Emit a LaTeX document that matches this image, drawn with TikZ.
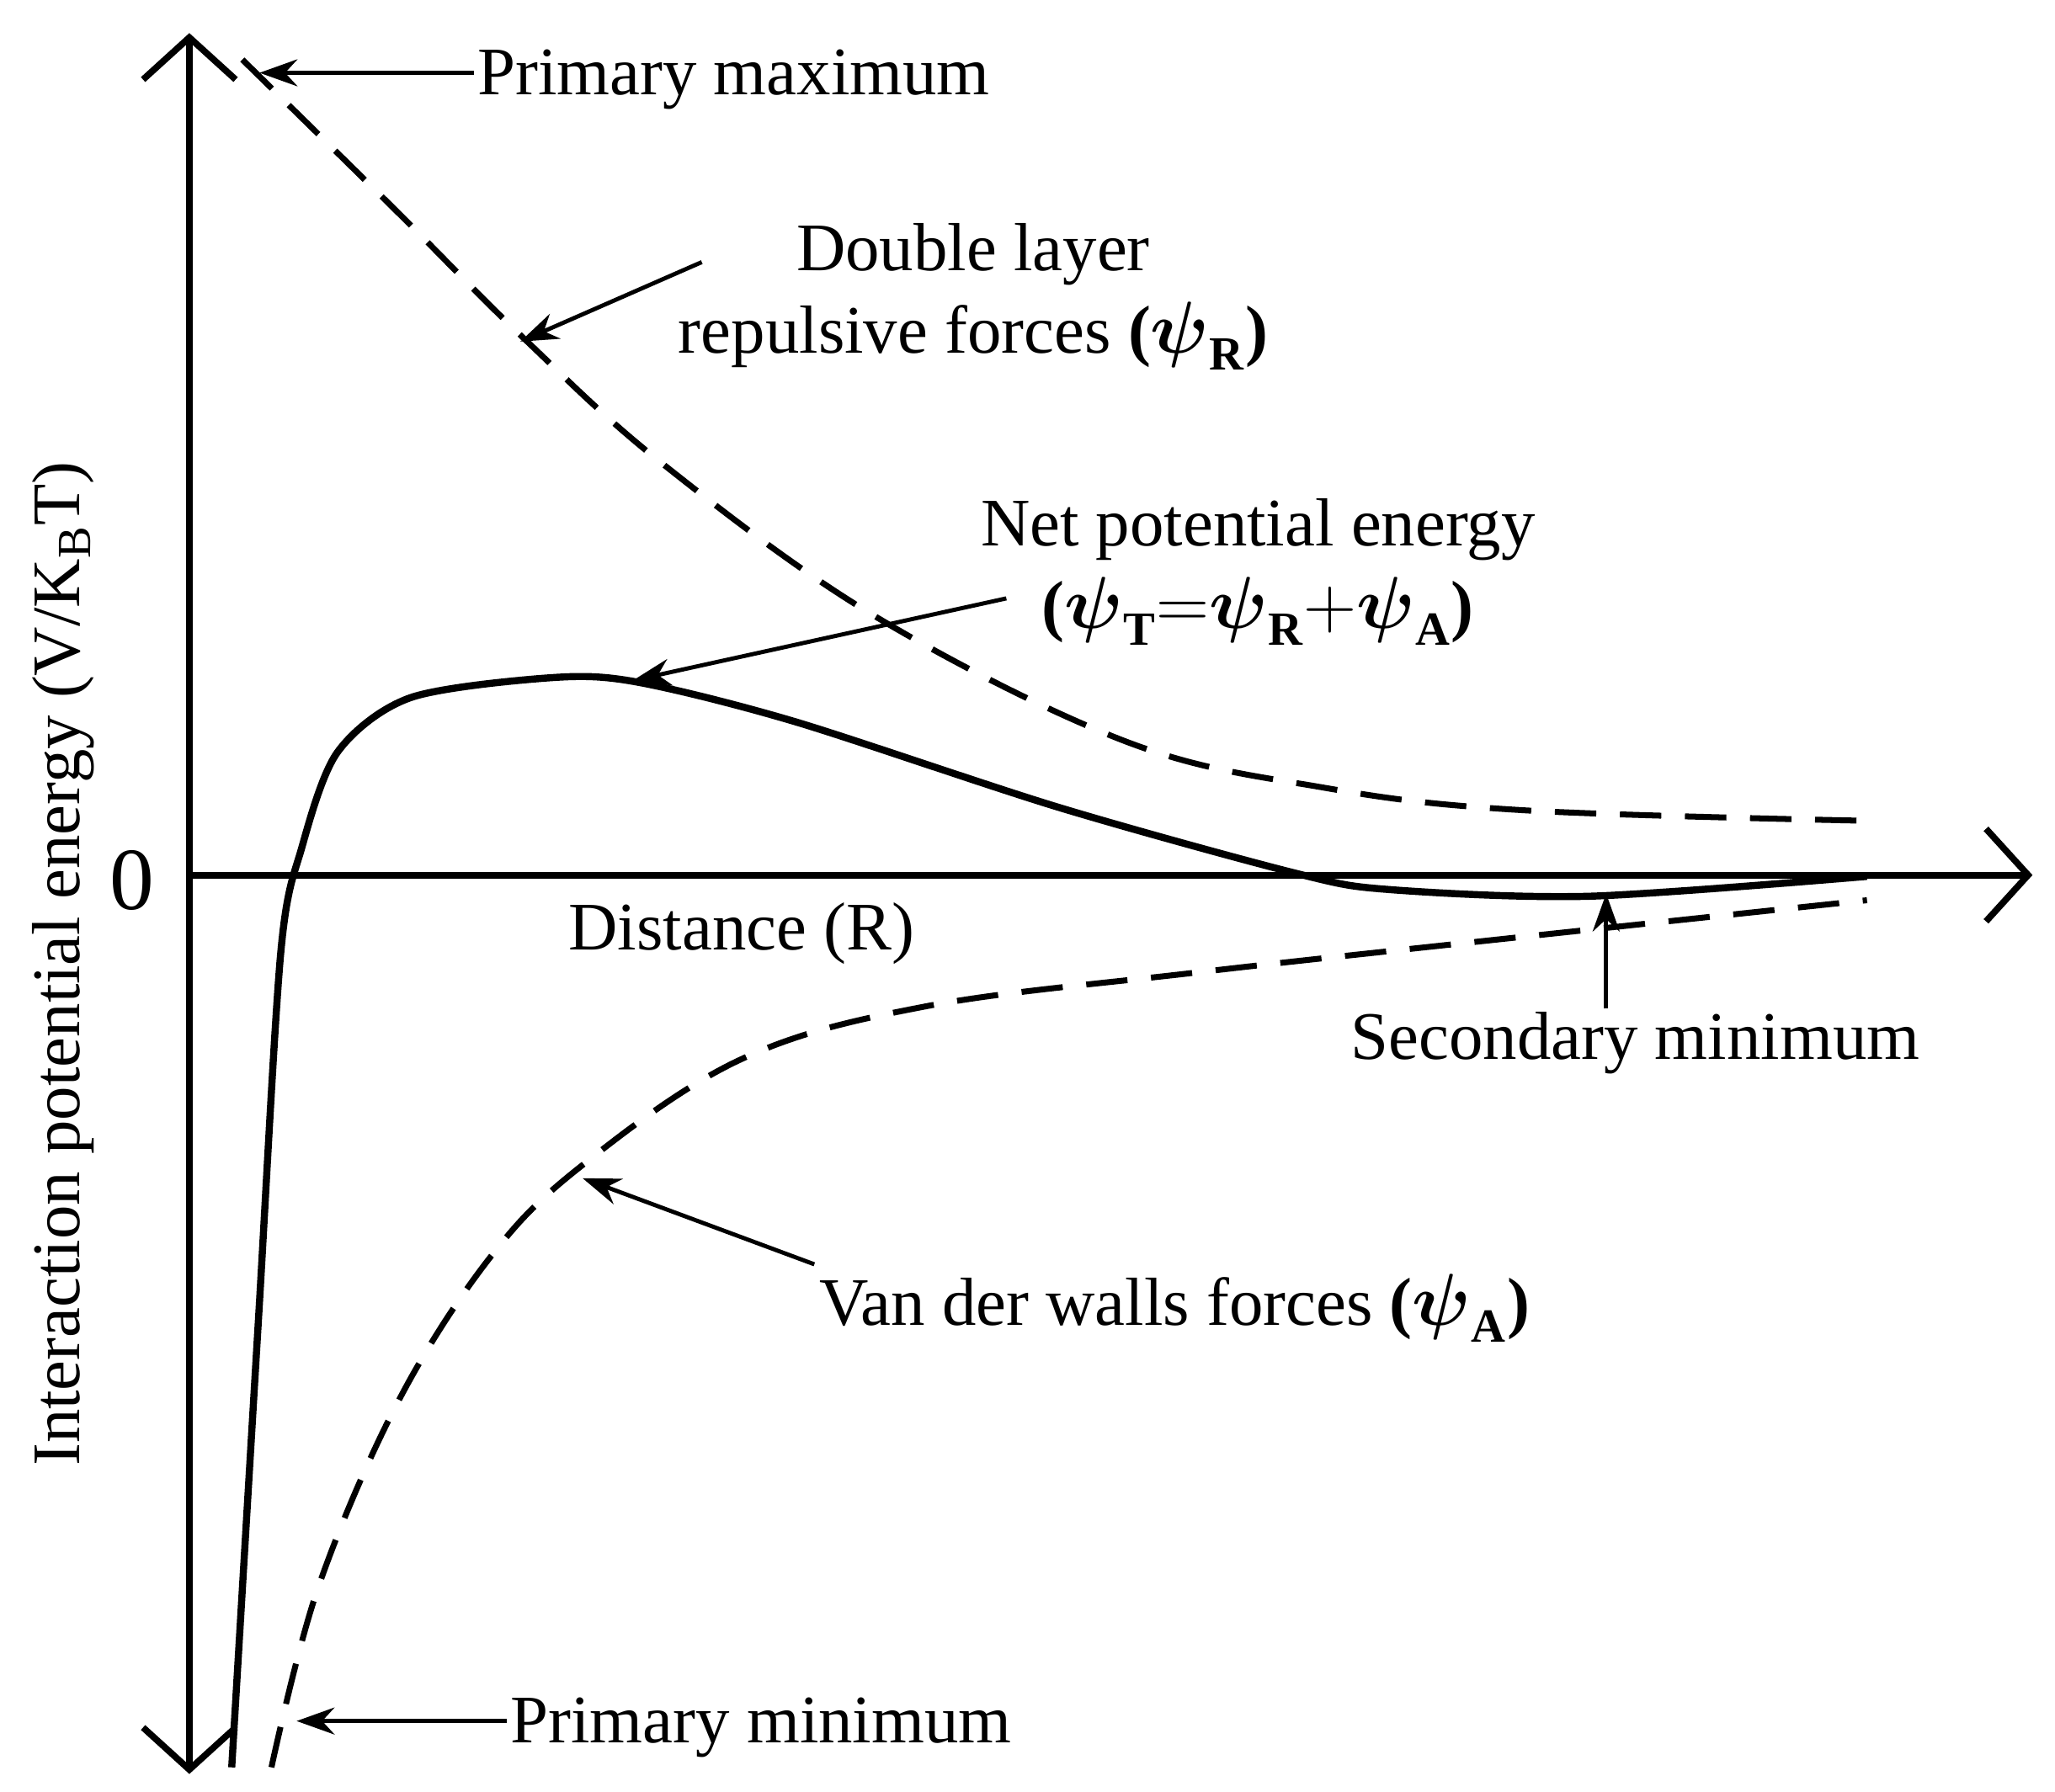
\documentclass[tikz,border=0pt]{standalone}
\usepackage{fontspec}
\usepackage{amsmath,amssymb}
\setmainfont{Liberation Serif}
\usetikzlibrary{arrows.meta}

\tikzset{
  axis/.style={line width=2.2pt, -{Straight Barb[length=5mm,width=11mm,line width=2.2pt]}},
  pointer/.style={line width=1.4pt, -{Stealth[length=4.5mm,width=3.2mm]}},
  lbl/.style={font=\fontsize{23}{28}\selectfont, inner sep=1pt},
  dashcurve/.style={line width=2pt, dash pattern=on 14pt off 8pt},
}

\begin{document}
\begin{tikzpicture}[x=0.01573cm, y=-0.01573cm]
    \useasboundingbox (0,0) rectangle (1552,1353);
    % axes
    \coordinate (o) at (143,661);
    \coordinate (ytop) at (143,25);
    \coordinate (ybot) at (143,1340);
    \coordinate (xend) at (1535,661);
    \draw[axis] (o) -- (ytop);
    \draw[axis] (o) -- (ybot);
    \draw[axis] (o) -- (xend);
    \node[lbl, font=\fontsize{30}{34}\selectfont] (zero) at (100,665) {0};
    \node[lbl, rotate=90] (ylab) at (48,728) {Interaction potential energy (V/K$_{\mathrm{B}}$T)};
    \node[lbl] (dist) at (560,705) {Distance (R)};
    % curves
    \draw[dashcurve] plot[smooth, tension=0.6] coordinates {(183,45) (300,160) (395,255) (500,350) (660,465) (850,560) (1000,595) (1150,612) (1410,620)};
    \draw[dashcurve] plot[smooth, tension=0.6] coordinates {(205,1335) (240,1200) (300,1060) (370,950) (440,880) (560,800) (700,760) (900,735) (1100,713) (1410,680)};
    \draw[line width=2.4pt] plot[smooth, tension=0.5] coordinates {(175,1335) (195,1000) (212,720) (228,640) (255,568) (310,527) (415,512) (480,515) (600,545) (800,610) (980,660) (1050,672) (1200,677) (1410,662)};
    % labels
    \node[lbl, anchor=west] (pmax) at (358,60) {Primary maximum};
    \coordinate (pmaxtip) at (196,55);
    \draw[pointer] (pmax.west) ++(0,-5) coordinate (pmaxs) -- (pmaxtip);
    \node[lbl, align=center] (rep) at (735,224) {Double layer\\repulsive forces \textbf{(}$\boldsymbol{\psi}_{\mathbf{R}}$\textbf{)}};
    \coordinate (repfrom) at (530,198);
    \coordinate (reptip) at (393,258);
    \draw[pointer] (repfrom) -- (reptip);
    \node[lbl, align=center] (net) at (950,432) {Net potential energy\\\textbf{(}$\boldsymbol{\psi}_{\mathbf{T}}\mathbf{=}\boldsymbol{\psi}_{\mathbf{R}}\mathbf{+}\boldsymbol{\psi}_{\mathbf{A}}$\textbf{)}};
    \coordinate (netfrom) at (760,452);
    \coordinate (nettip) at (478,514);
    \draw[pointer] (netfrom) -- (nettip);
    \node[lbl] (smin) at (1235,788) {Secondary minimum};
    \coordinate (smintip) at (1213,675);
    \draw[pointer] (smin.north -| smintip) -- (smintip);
    \node[lbl] (vdw) at (887,988) {Van der walls forces \textbf{(}$\boldsymbol{\psi}_{\mathbf{A}}$\textbf{)}};
    \coordinate (vdwfrom) at (615,955);
    \coordinate (vdwtip) at (440,890);
    \draw[pointer] (vdwfrom) -- (vdwtip);
    \node[lbl, anchor=west] (pmin) at (383,1305) {Primary minimum};
    \coordinate (pmintip) at (224,1300);
    \draw[pointer] (pmin.west |- pmintip) -- (pmintip);
\end{tikzpicture}
\end{document}
